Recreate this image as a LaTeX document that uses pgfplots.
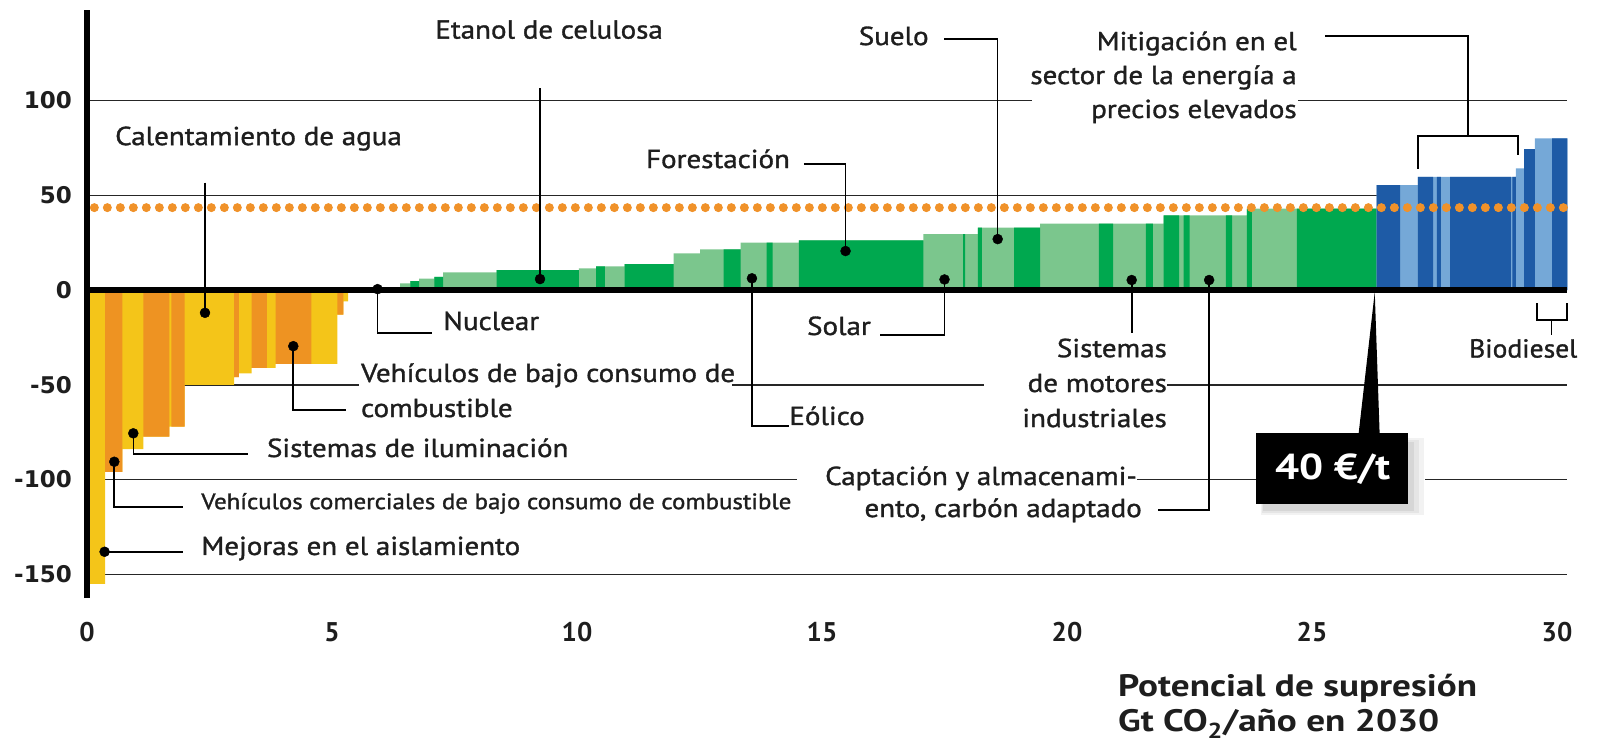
\documentclass[border=0pt]{standalone}
\usepackage{fontspec}
\setmainfont{PT Sans}
\newfontfamily\djv{DejaVu Sans}
\newfontfamily\lf{PT Sans}[FakeBold=1.2]
\usepackage{graphicx}
\usepackage{pgfplots}
\pgfplotsset{compat=1.18}

\definecolor{cY}{HTML}{F4C519}
\definecolor{cO}{HTML}{EE9322}
\definecolor{cDG}{HTML}{00A84F}
\definecolor{cLG}{HTML}{7BC68D}
\definecolor{cDB}{HTML}{1E5BA6}
\definecolor{cLB}{HTML}{75A8D7}
\definecolor{cDot}{HTML}{F0922A}
\definecolor{txt}{HTML}{1E1E1E}
\tikzset{lbl/.style={inner sep=0pt, text=txt}}

\newcommand{\lab}[1]{\scalebox{1.116}[1]{\lf\fontsize{26}{30}\selectfont #1}}
\newcommand{\labs}[1]{\scalebox{1.116}[1]{\lf\fontsize{22.3}{26}\selectfont #1}}
\newcommand{\labb}[1]{\scalebox{1.2}[1]{\fontsize{31}{34}\selectfont\bfseries #1}}
\newcommand{\labbox}[1]{\scalebox{1.18}[1]{\fontsize{36}{40}\selectfont\bfseries #1}}

\begin{document}
\begin{tikzpicture}
\useasboundingbox (0,0) rectangle (1608pt,742pt);
\begin{axis}[
  at={(87pt,144pt)}, anchor=south west,
  scale only axis, width=1494.5pt, height=588pt,
  xmin=0, xmax=30.5, ymin=-162.5, ymax=147.8,
  clip=false,
  axis line style={draw=none},
  major tick length=0pt, tick style={draw=none},
  xtick={0,5,10,15,20,25,30},
  xticklabels={0,5,10,15,20,25,30},
  ytick={-150,-100,-50,0,50,100},
  yticklabels={-150,-100,-50,0,50,100},
  xticklabel style={font=\fontsize{27}{27}\selectfont\bfseries, text=txt, anchor=center, inner sep=0pt, yshift=-34pt},
  yticklabel style={font=\djv\fontsize{23}{23}\selectfont\bfseries, text=txt, anchor=east, inner sep=0pt, xshift=-15pt},
]
% gridlines
\draw[line width=1.5pt, black!85] (axis cs:0,100) -- (axis cs:19.29,100);
\draw[line width=1.5pt, black!85] (axis cs:24.71,100) -- (axis cs:30.21,100);
\draw[line width=1.5pt, black!85] (axis cs:0,50) -- (axis cs:30.21,50);
\draw[line width=1.5pt, black!85] (axis cs:0,-50) -- (axis cs:5.55,-50);
\draw[line width=1.5pt, black!85] (axis cs:13.16,-50) -- (axis cs:18.31,-50);
\draw[line width=1.5pt, black!85] (axis cs:22.04,-50) -- (axis cs:30.21,-50);
\draw[line width=1.5pt, black!85] (axis cs:0,-100) -- (axis cs:14.49,-100);
\draw[line width=1.5pt, black!85] (axis cs:21.43,-100) -- (axis cs:30.21,-100);
\draw[line width=1.5pt, black!85] (axis cs:0,-150) -- (axis cs:30.21,-150);

% negative bars
\addplot[const plot, fill=cY, draw=none] coordinates {(0,-155) (0.37,-96) (0.72,-84) (1.15,-77.4) (1.68,-72) (1.99,-50) (3.0,-46) (3.1,-44) (3.36,-41) (3.85,-39) (5.11,-13) (5.23,-6) (5.33,0)} \closedcycle;
\addplot[const plot, fill=cO, draw=none] coordinates {(0.37,-96) (0.72,0) (1.15,-77.4) (1.68,0) (1.72,-72) (1.99,0) (3.0,-46) (3.1,0) (3.36,-41) (3.67,0) (3.85,-39) (4.58,0) (5.11,-13) (5.23,0)} \closedcycle;
% green bars
\addplot[const plot, fill=cLG, draw=none] coordinates {(6.39,3.5) (6.6,4.7) (6.78,6) (7.09,7) (7.27,9.3) (8.36,10.5) (10.04,11.4) (10.39,12.5) (10.97,13.7) (11.97,19.4) (12.51,21.5) (13.34,25) (14.53,26.2) (17.07,29.5) (18.18,32.9) (19.45,35) (21.97,39.4) (23.67,43) (26.32,0)} \closedcycle;
\addplot[const plot, fill=cDG, draw=none] coordinates {(6.6,4.7) (6.78,0) (7.09,7) (7.27,0) (8.36,10.5) (10.04,0) (10.39,12.5) (10.57,0) (10.97,13.7) (11.97,0) (12.99,21.5) (13.34,0) (13.87,25) (13.99,0) (14.53,26.2) (17.07,0) (17.88,29.5) (17.92,0) (18.18,32.9) (18.26,0) (18.92,32.9) (19.45,0) (20.65,35) (20.94,0) (21.61,35) (21.75,0) (21.97,39.4) (22.29,0) (22.38,39.4) (22.5,0) (23.24,39.4) (23.37,0) (23.67,43) (23.77,0) (24.69,43) (26.32,0)} \closedcycle;
% blue bars
\addplot[const plot, fill=cLB, draw=none] coordinates {(26.32,55.4) (27.16,59.8) (29.16,64.2) (29.33,74.4) (29.55,80) (30.21,0)} \closedcycle;
\addplot[const plot, fill=cDB, draw=none] coordinates {(26.32,55.4) (26.8,0) (27.16,59.8) (27.47,0) (27.55,59.8) (27.63,0) (27.82,59.8) (29.06,0) (29.09,59.8) (29.16,0) (29.33,74.4) (29.55,0) (29.90,80) (30.21,0)} \closedcycle;

% 40 euro/t line
\addplot[cDot, line width=9pt, line cap=round, dash pattern=on 0pt off 13pt] coordinates {(0.15,43.5) (30.21,43.5)};

% axis lines
\draw[line width=5.5pt, black] (axis cs:0,-162.5) -- (axis cs:0,147.8);
\draw[line width=6pt, black] (axis cs:0,0) -- (axis cs:30.21,0);

% leader lines
\draw[line width=1.6pt, black] (axis cs:9.245,106.6) -- (axis cs:9.245,5.8);
\draw[line width=1.6pt, black] (axis cs:2.408,56.7) -- (axis cs:2.408,-12.0);
\draw[line width=1.6pt, black] (axis cs:17.49,132.5) -- (axis cs:18.585,132.5) -- (axis cs:18.585,26.9);
\draw[line width=1.6pt, black] (axis cs:25.27,134.0) -- (axis cs:28.18,134.0) -- (axis cs:28.18,81.3);
\draw[line width=1.6pt, black] (axis cs:27.16,63.9) -- (axis cs:27.16,81.3) -- (axis cs:29.20,81.3) -- (axis cs:29.20,71.2);
\draw[line width=1.6pt, black] (axis cs:14.63,66.5) -- (axis cs:15.48,66.5) -- (axis cs:15.48,20.6);
\draw[line width=1.6pt, black] (axis cs:5.93,0.5) -- (axis cs:5.93,-22.7) -- (axis cs:7.04,-22.7);
\draw[line width=1.6pt, black] (axis cs:4.21,-29.6) -- (axis cs:4.21,-63.3) -- (axis cs:5.28,-63.3);
\draw[line width=1.6pt, black] (axis cs:0.945,-75.6) -- (axis cs:0.945,-86.5) -- (axis cs:3.29,-86.5);
\draw[line width=1.6pt, black] (axis cs:0.557,-90.6) -- (axis cs:0.557,-114.5) -- (axis cs:1.95,-114.5);
\draw[line width=1.6pt, black] (axis cs:0.359,-138.1) -- (axis cs:1.95,-138.1);
\draw[line width=1.6pt, black] (axis cs:17.50,5.6) -- (axis cs:17.50,-23.7) -- (axis cs:16.18,-23.7);
\draw[line width=1.6pt, black] (axis cs:13.57,6.2) -- (axis cs:13.57,-71.8) -- (axis cs:14.33,-71.8);
\draw[line width=1.6pt, black] (axis cs:21.32,5.3) -- (axis cs:21.32,-22.7);
\draw[line width=1.6pt, black] (axis cs:22.90,5.3) -- (axis cs:22.90,-116.1) -- (axis cs:21.86,-116.1);
\draw[line width=1.6pt, black] (axis cs:29.59,-6.9) -- (axis cs:29.59,-15.8) -- (axis cs:30.20,-15.8) -- (axis cs:30.20,-6.9);
\draw[line width=1.6pt, black] (axis cs:29.89,-15.8) -- (axis cs:29.89,-23.7);

% dots
\addplot[only marks, mark=*, mark size=5pt, black] coordinates {(9.245,5.8) (2.408,-12.0) (18.585,26.9) (15.48,20.6) (5.93,0.5) (4.21,-29.6) (0.945,-75.6) (0.557,-90.6) (0.359,-138.1) (17.50,5.6) (13.57,6.2) (21.32,5.3) (22.90,5.3)};

% labels
\node[lbl, anchor=base] at (axis cs:9.43,132.7) {\lab{Etanol de celulosa}};
\node[lbl, anchor=base] at (axis cs:3.50,76.5) {\lab{Calentamiento de agua}};
\node[lbl, anchor=base east] at (axis cs:17.18,129.3) {\lab{Suelo}};
\node[lbl, anchor=base east] at (axis cs:24.69,126.6) {\lab{Mitigación en el}};
\node[lbl, anchor=base east] at (axis cs:24.69,108.7) {\lab{sector de la energía a}};
\node[lbl, anchor=base east] at (axis cs:24.69,90.8) {\lab{precios elevados}};
\node[lbl, anchor=base east] at (axis cs:14.35,64.4) {\lab{Forestación}};
\node[lbl, anchor=base west] at (axis cs:7.27,-21.1) {\lab{Nuclear}};
\node[lbl, anchor=base west] at (axis cs:5.59,-48.5) {\lab{Vehículos de bajo consumo de}};
\node[lbl, anchor=base west] at (axis cs:5.59,-67.0) {\lab{combustible}};
\node[lbl, anchor=base west] at (axis cs:3.67,-88.1) {\lab{Sistemas de iluminación}};
\node[lbl, anchor=base west] at (axis cs:2.33,-115.6) {\labs{Vehículos comerciales de bajo consumo de combustible}};
\node[lbl, anchor=base west] at (axis cs:2.33,-139.8) {\lab{Mejoras en el aislamiento}};
\node[lbl, anchor=base east] at (axis cs:16.0,-23.7) {\lab{Solar}};
\node[lbl, anchor=base west] at (axis cs:14.33,-71.2) {\lab{Eólico}};
\node[lbl, anchor=base east] at (axis cs:22.04,-35.4) {\lab{Sistemas}};
\node[lbl, anchor=base east] at (axis cs:22.04,-53.8) {\lab{de motores}};
\node[lbl, anchor=base east] at (axis cs:22.04,-72.3) {\lab{industriales}};
\node[lbl, anchor=base east] at (axis cs:21.43,-102.9) {\lab{Captación y almacenami-}};
\node[lbl, anchor=base east] at (axis cs:21.53,-119.8) {\lab{ento, carbón adaptado}};
\node[lbl, anchor=base] at (axis cs:29.31,-35.6) {\scalebox{0.95}[1]{\lab{Biodiesel}}};
\node[lbl, anchor=base west] at (axis cs:21.04,-214.4) {\labb{Potencial de supresión}};
\node[lbl, anchor=base west] at (axis cs:21.04,-233.2) {\labb{Gt CO\textsubscript{2}/año en 2030}};

% price box
\fill[white] (axis cs:23.85,-75.3) rectangle (axis cs:27.3,-119);
\fill[black!5] (axis cs:23.95,-78) rectangle (axis cs:27.28,-118.5);
\fill[black!10] (axis cs:23.98,-79) rectangle (axis cs:27.18,-117.5);
\fill[black!16] (axis cs:24.0,-80) rectangle (axis cs:27.08,-116.5);
\fill[black] (axis cs:23.85,-75.3) rectangle (axis cs:26.96,-112.9);
\fill[black] (axis cs:25.95,-76) -- (axis cs:26.38,-76) -- (axis cs:26.28,-1.1) -- cycle;
\node[lbl, text=white] at (axis cs:25.42,-94.5) {\labbox{40 €/t}};
\end{axis}
\end{tikzpicture}
\end{document}
